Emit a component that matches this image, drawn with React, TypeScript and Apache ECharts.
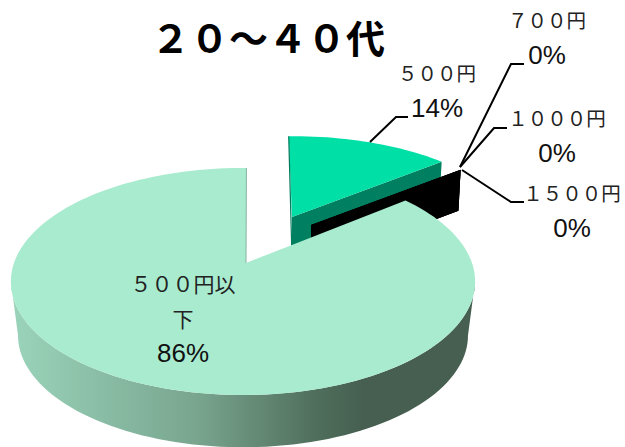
import React, { useEffect, useRef } from "react";
import * as echarts from "echarts";

const titleText = "２０～４０代";
const categories = ["５００円以下", "５００円", "７００円", "１０００円", "１５００円"];
const shares = [86, 14, 0, 0, 0];

// geometry and styling, not data
const K = 0.163;
const CJK = '"Noto Sans CJK JP", "Noto Sans CJK SC", sans-serif';
const drawOrder = [1, 2, 3, 4, 0];
const zeroWall = { x: 311, y: 225, A: 218, B: 94, depth: 41, shift: -1, wallFill: "#000000" };
const sliceGeometry: any[] = [
  { x: 243, y: 263, A: 229, B: 110.5, apexX: 246, shift: 1, top: "#a8ebcf", nameSize: 21,
    lower: { x: 243, y: 317, A: 222, B: 109 } },
  { x: 292, y: 217, A: 218, B: 94, depth: 41, shift: -1, top: "#00dfa6", wallFill: "#008060" },
  zeroWall,
  zeroWall,
  zeroWall,
];
const labelPos = [
  { x: 183, y: 318 },
  { x: 437, y: 90 },
  { x: 547, y: 37 },
  { x: 557, y: 135 },
  { x: 572, y: 210 },
];
const leaders: number[][][] = [
  [],
  [[370, 142], [396, 117], [408, 117]],
  [[460, 167], [511, 64], [524, 64]],
  [[460, 167], [494, 128], [507, 128]],
  [[462, 170], [511, 202], [524, 202]],
];

const rad = (d: number) => (d * Math.PI) / 180;
const project = (g: any, deg: number) => {
  const s = Math.sin(rad(deg));
  const c = Math.cos(rad(deg));
  const w = 1 + K * c;
  return [g.x + (g.A * s) / w, g.y - (g.B * c) / w];
};
const arc = (g: any, from: number, to: number) => {
  const pts: number[][] = [];
  const n = Math.max(1, Math.ceil((to - from) / 2));
  for (let i = 0; i <= n; i++) pts.push(project(g, from + ((to - from) * i) / n));
  return pts;
};

const sliceAngles = () => {
  const total = shares.reduce((a, b) => a + b, 0);
  // the second slice starts at twelve o'clock and the rest follow clockwise
  const out: number[][] = [];
  let cur = 0;
  for (let i = 1; i <= shares.length; i++) {
    const idx = i % shares.length;
    const sweep = (shares[idx] / total) * 360;
    out[idx] = [cur, cur + sweep];
    cur += sweep;
  }
  return out;
};

const chunk = (s: string, n: number) => {
  const chars = Array.from(s);
  const lines: string[] = [];
  for (let i = 0; i < chars.length; i += n) lines.push(chars.slice(i, i + n).join(""));
  return lines;
};

const renderItem = (params: any) => {
  const i = drawOrder[params.dataIndex];
  const g = sliceGeometry[i];
  const [a0, a1] = sliceAngles()[i];
  const from = a0 + g.shift;
  const to = a1 + g.shift;
  const children: any[] = [];

  if (g.lower) {
    const left = 260.6;
    const right = 99.4;
    const topArc = arc(g, right, left);
    const lowArc = arc(g.lower, right, left).reverse();
    children.push({
      type: "polygon",
      shape: { points: [...topArc, ...lowArc] },
      style: {
        fill: new echarts.graphic.LinearGradient(0, 0, 1, 0, [
          { offset: 0, color: "#9ad4ba" },
          { offset: 0.4, color: "#79a58f" },
          { offset: 0.66, color: "#4f6e5c" },
          { offset: 0.76, color: "#465f50" },
          { offset: 1, color: "#465f50" },
        ]),
      },
    });
    const apex = [g.apexX, g.y];
    const start = project(g, to);
    children.push({
      type: "polygon",
      shape: { points: [apex, ...arc(g, from, to)] },
      style: { fill: g.top },
    });
    children.push({
      type: "line",
      shape: { x1: apex[0], y1: apex[1], x2: start[0], y2: start[1] },
      style: { stroke: "#86b3a0", lineWidth: 1 },
    });
  } else {
    const end = project(g, to);
    const bottom = [g.x + (end[0] - g.x) * 0.985, end[1] + g.depth];
    children.push({
      type: "polygon",
      shape: {
        points: [[g.x, g.y], end, bottom, [g.x, g.y + g.depth]],
      },
      style: { fill: g.wallFill },
    });
    if (g.top && to > from) {
      const st = project(g, from);
      children.push({
        type: "polygon",
        shape: { points: [[g.x, g.y], ...arc(g, from, to)] },
        style: { fill: g.top },
      });
      children.push({
        type: "line",
        shape: { x1: st[0], y1: st[1], x2: g.x, y2: g.y + g.depth },
        style: { stroke: "#007a5c", lineWidth: 1.2 },
      });
    }
  }

  if (leaders[i].length) {
    children.push({
      type: "polyline",
      shape: { points: leaders[i] },
      style: { stroke: "#000000", lineWidth: 2, fill: "none" },
    });
  }

  const nameLines = chunk(categories[i], 5).map((l) => `{n|${l}}`);
  children.push({
    type: "text",
    z2: 10,
    style: {
      x: labelPos[i].x,
      y: labelPos[i].y,
      align: "center",
      verticalAlign: "middle",
      text: [...nameLines, `{p|${shares[i]}%}`].join("\n"),
      rich: {
        n: { fontFamily: CJK, fontSize: g.nameSize || 19.5, lineHeight: 35, fill: "#222222", align: "center" },
        p: { fontFamily: '"Liberation Sans", Arial, sans-serif', fontSize: 26, lineHeight: 35, fill: "#111111", align: "center" },
      },
    },
  });

  return { type: "group", children };
};

export default function App() {
  const ref = useRef<HTMLDivElement>(null);
  useEffect(() => {
    const chart = echarts.init(ref.current!, undefined, { renderer: "svg" });
    chart.setOption({
      animation: false,
      backgroundColor: "#ffffff",
      title: {
        text: titleText,
        left: 151,
        top: 16,
        padding: 0,
        textStyle: { fontFamily: CJK, fontSize: 39, fontWeight: "bold", color: "#000000" },
      },
      series: [
        {
          type: "custom",
          coordinateSystem: "none",
          silent: true,
          clip: false,
          renderItem,
          data: drawOrder.map((i) => ({ name: categories[i], value: shares[i] })),
        },
      ],
    });
    return () => chart.dispose();
  }, []);
  return (
    <div
      ref={ref}
      style={{ position: "absolute", left: 0, top: 0, width: 625, height: 447 }}
    />
  );
}
